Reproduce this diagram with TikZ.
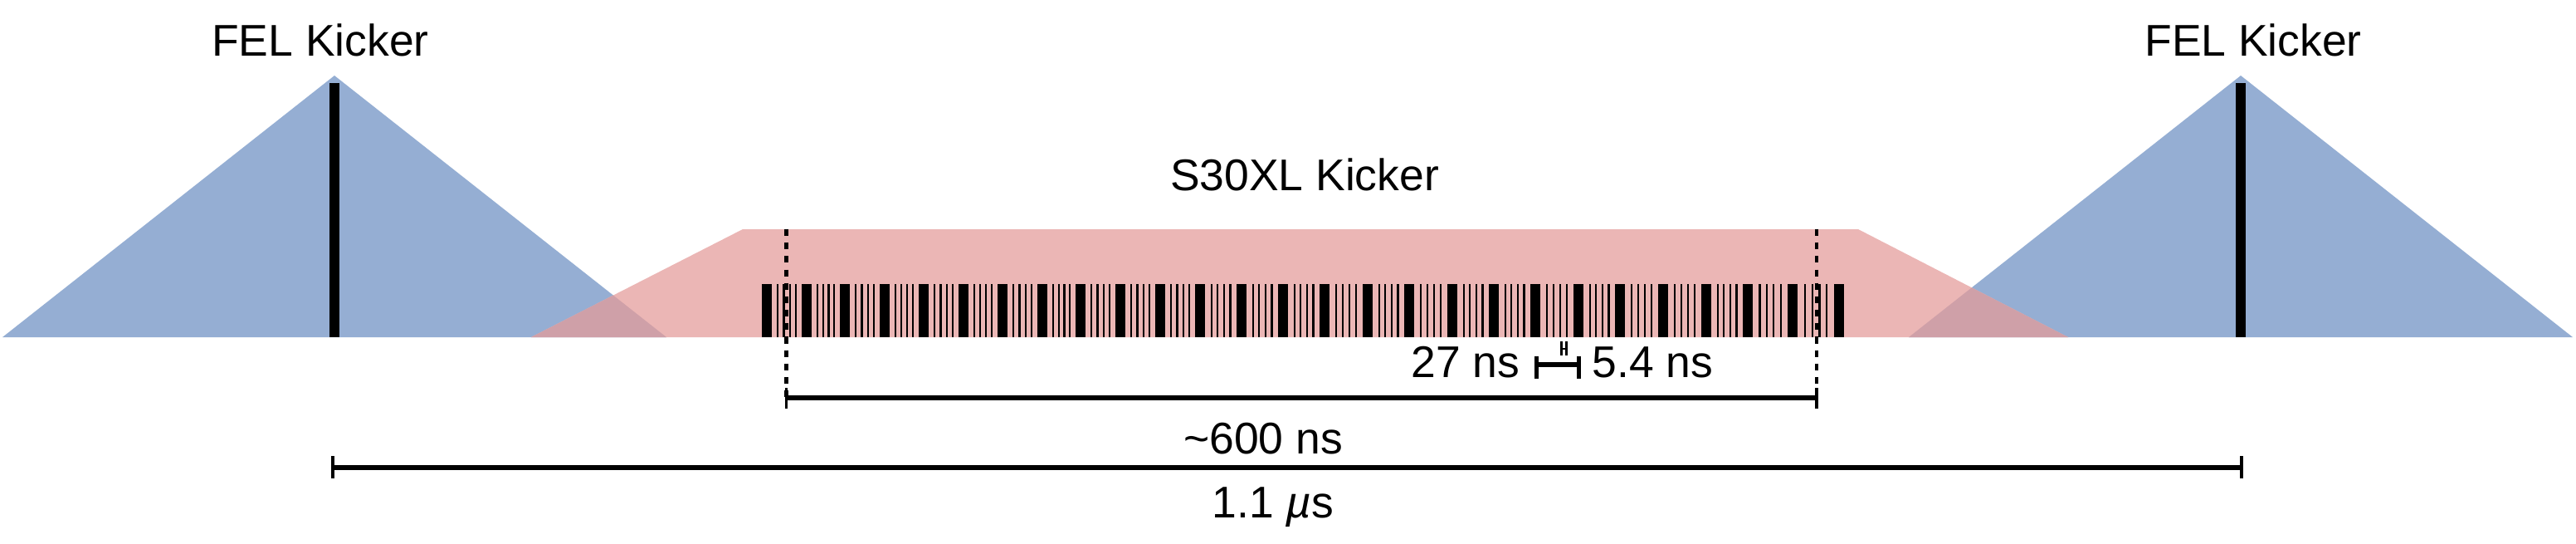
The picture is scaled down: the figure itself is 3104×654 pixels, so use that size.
\documentclass[tikz,border=0pt]{standalone}
\usepackage{fontspec}
\setmainfont{Liberation Sans}
\definecolor{felblue}{RGB}{149,174,211}
\definecolor{s30pink}{RGB}{235,182,181}
\definecolor{mixcol}{RGB}{207,160,168}
\begin{document}
\begin{tikzpicture}[x=0.01cm,y=-0.01cm,
  lbl/.style={inner sep=0pt, font=\fontsize{15.2}{18}\selectfont},
  dimline/.style={line width=1.45pt},
  bigdim/.style={line width=1.75pt},
  tickline/.style={line width=1.1pt},
  marker/.style={dashed, line width=1.25pt, dash pattern=on 2.3pt off 2.3pt}]
\useasboundingbox (0,0) rectangle (3104,654);
% FEL kicker pulses
\fill[felblue] (3,406) -- (403,91) -- (803,406) -- cycle;
\fill[felblue] (2300,406) -- (2700,91) -- (3100,406) -- cycle;
% S30XL kicker pulse
\fill[s30pink] (640,406) -- (895,276) -- (2239,276) -- (2492,406) -- cycle;
\begin{scope}
  \clip (640,406) -- (895,276) -- (2239,276) -- (2492,406) -- cycle;
  \fill[mixcol] (3,406) -- (403,91) -- (803,406) -- cycle;
  \fill[mixcol] (2300,406) -- (2700,91) -- (3100,406) -- cycle;
\end{scope}
% FEL bunches
\fill[black] (397,100) rectangle (409,406);
\fill[black] (2694,100) rectangle (2706,406);
% S30XL bunch trains
\foreach \a/\b in {918/966,966/1012,1012/1060,1060/1107,1107/1155,1155/1202,1202/1250,1250/1296,1296/1344,1344/1392,1392/1440,1440/1490,1490/1540,1540/1590,1590/1642,1642/1692,1692/1744,1744/1794,1794/1844,1844/1896,1896/1946,1946/1998,1998/2050,2050/2100,2100/2154,2154/2210}{
  \fill[black] (\a,342) rectangle ++(12,64);
  \pgfmathsetmacro\gap{(\b-\a-12)/5}
  \foreach \k in {1,...,4}{
    \fill[black] ({\a+12+\k*\gap-1.1},342) rectangle ++(2.2,64);
  }
}
\fill[black] (2210,342) rectangle ++(12,64);
% labels
\node[lbl, anchor=base] (felL) at (386,67) {FEL Kicker};
\node[lbl, anchor=base] (felR) at (2715,67) {FEL Kicker};
\node[lbl, anchor=base] (s30) at (1572,229) {S30XL Kicker};
\node[lbl, anchor=base east] (t27) at (1832,454) {27 ns};
\node[lbl, anchor=base west] (t54) at (1918,454) {5.4 ns};
\node[lbl, anchor=base] (t600) at (1522,546) {\char`\~600 ns};
\node[lbl, anchor=base] (t11) at (1534,623) {1.1 \textit{µ}s};
% dashed markers and ~600 ns bracket
\coordinate (dL) at (947.5,276);
\coordinate (dR) at (2189,276);
\coordinate (bL) at (947.5,479);
\coordinate (bR) at (2189,479);
\draw[marker] (dL) -- (bL);
\draw[marker] (dR) -- (bR);
\draw[dimline] (bL) -- (bR);
\draw[tickline] ([yshift=0.12cm]bL) -- ([yshift=-0.13cm]bL);
\draw[tickline] ([yshift=0.12cm]bR) -- ([yshift=-0.13cm]bR);
% 1.1 us bracket
\coordinate (cL) at (401,563);
\coordinate (cR) at (2701,563);
\draw[bigdim] (cL) -- (cR);
\draw[tickline] ([yshift=0.14cm]cL) -- ([yshift=-0.13cm]cL);
\draw[tickline] ([yshift=0.14cm]cR) -- ([yshift=-0.13cm]cR);
% 27 ns bracket
\coordinate (pL) at (1851.5,439);
\coordinate (pR) at (1902.5,439);
\draw[dimline] (pL) -- (pR);
\draw[dimline] (1851.5,429) -- (1851.5,456);
\draw[dimline] (1902.5,429) -- (1902.5,456);
% 5.4 ns bracket
\coordinate (qL) at (1881.6,420);
\coordinate (qR) at (1887.6,420);
\draw[line width=0.55pt] (qL) -- (qR);
\draw[line width=0.85pt] (1881.6,411) -- (1881.6,428);
\draw[line width=0.85pt] (1887.6,411) -- (1887.6,428);
\end{tikzpicture}
\end{document}
